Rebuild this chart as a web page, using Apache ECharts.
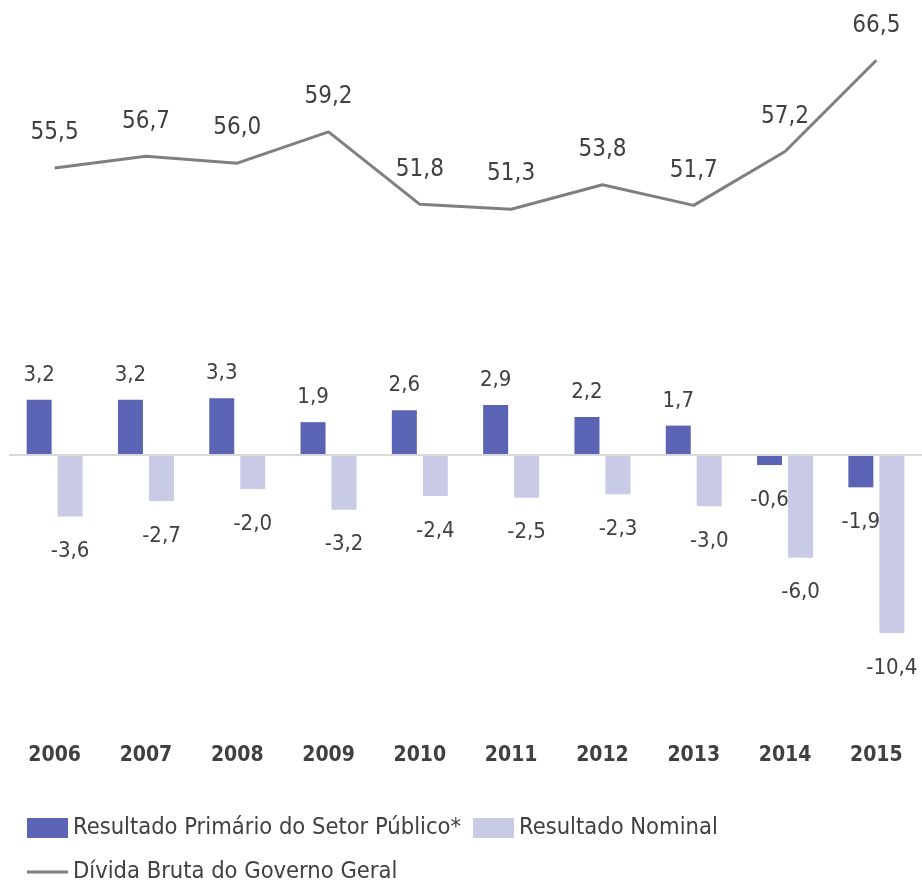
<!DOCTYPE html>
<html lang="pt">
  <head>
    <meta charset="utf-8">
    <script src="https://cdn.jsdelivr.net/npm/echarts@6/dist/echarts.min.js"></script>
    <style>
      html, body { margin: 0; padding: 0; background: #fff; }
    </style>
  </head>
  <body>
    <div id="chart" style="width:922px;height:885px;"></div>
    <script>
      // Dados
      var anos = ['2006', '2007', '2008', '2009', '2010', '2011', '2012', '2013', '2014', '2015'];
      var primario = [3.2, 3.2, 3.3, 1.9, 2.6, 2.9, 2.2, 1.7, -0.6, -1.9];
      var nominal = [-3.6, -2.7, -2.0, -3.2, -2.4, -2.5, -2.3, -3.0, -6.0, -10.4];
      var divida = [55.5, 56.7, 56.0, 59.2, 51.8, 51.3, 53.8, 51.7, 57.2, 66.5];

      var nomes = ['Resultado Primário do Setor Público*', 'Resultado Nominal', 'Dívida Bruta do Governo Geral'];

      var fonte = '"DejaVu Sans Condensed", "Liberation Sans Narrow", "Liberation Sans", sans-serif';
      var corTexto = '#404040';

      // formato com virgula
      function virgula(p) {
        return p.value.toFixed(1).replace('.', ',');
      }

      var myChart = echarts.init(document.getElementById('chart'));

      var option = {
        animation: false,
        textStyle: { fontFamily: fonte },
        grid: { left: 9, width: 914, top: 26, height: 686 },
        legend: [
          {
            data: [nomes[0], nomes[1]],
            left: 22,
            top: 811,
            itemWidth: 41,
            itemHeight: 20,
            itemGap: 12,
            icon: 'rect',
            textStyle: { fontFamily: fonte, fontSize: 23.5, color: corTexto }
          },
          {
            data: [nomes[2]],
            left: 22,
            top: 855,
            itemWidth: 41,
            itemHeight: 3,
            icon: 'rect',
            textStyle: { fontFamily: fonte, fontSize: 23.5, color: corTexto }
          }
        ],
        xAxis: {
          type: 'category',
          data: anos,
          axisLine: { show: false, onZero: false },
          axisTick: { show: false },
          axisLabel: {
            margin: 33,
            fontFamily: fonte,
            fontSize: 21,
            fontWeight: 'bold',
            color: corTexto
          }
        },
        yAxis: [
          { type: 'value', min: -15, max: 25, show: false, splitLine: { show: false } },
          { type: 'value', min: 0, max: 70, show: false, splitLine: { show: false } }
        ],
        series: [
          {
            name: nomes[0],
            type: 'bar',
            // valores negativos do primario: rotulo embaixo
            data: primario.map(function (v) {
              if (v < 0) {
                return { value: v, label: { position: 'bottom', distance: 24 } };
              }
              return v;
            }),
            barWidth: 25,
            barGap: '24%',
            itemStyle: { color: '#5b63b5' },
            label: {
              show: true,
              position: 'top',
              distance: 13.5,
              fontFamily: fonte,
              fontSize: 22,
              color: corTexto,
              formatter: virgula
            },
            markLine: {
              silent: true,
              symbol: 'none',
              label: { show: false },
              lineStyle: { color: '#d9d9d9', width: 2, type: 'solid' },
              data: [{ yAxis: 0 }]
            },
            z: 3
          },
          {
            name: nomes[1],
            type: 'bar',
            data: nominal,
            barWidth: 25,
            itemStyle: { color: '#c9cbe6' },
            label: {
              show: true,
              position: 'bottom',
              distance: 24,
              fontFamily: fonte,
              fontSize: 22,
              color: corTexto,
              formatter: virgula
            },
            z: 3
          },
          {
            name: nomes[2],
            type: 'line',
            yAxisIndex: 1,
            data: divida,
            symbol: 'circle',
            symbolSize: 0,
            lineStyle: { color: '#7f7f7f', width: 3 },
            itemStyle: { color: '#7f7f7f' },
            label: {
              show: true,
              position: 'top',
              distance: 23,
              fontFamily: fonte,
              fontSize: 24,
              color: corTexto,
              formatter: virgula
            },
            z: 4
          }
        ]
      };

      myChart.setOption(option);
    </script>
  </body>
</html>
